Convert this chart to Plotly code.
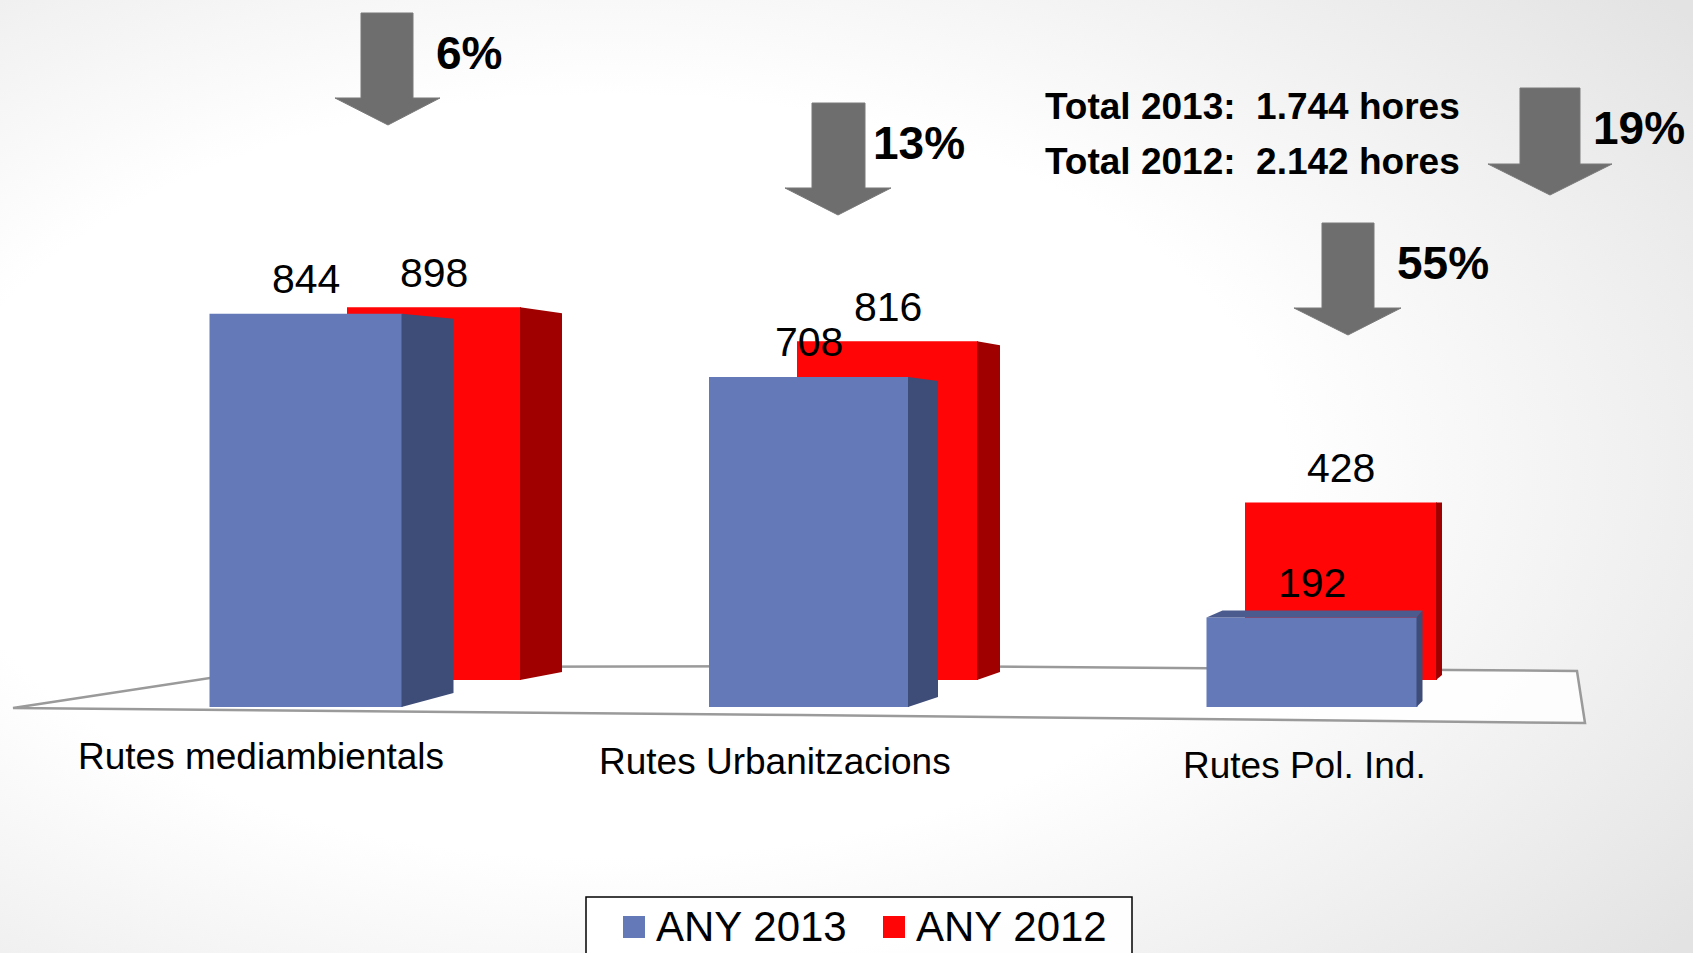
import base64
import plotly.graph_objects as go

# ---------------- data ----------------
categories = ["Rutes mediambientals", "Rutes Urbanitzacions", "Rutes Pol. Ind."]
series_names = ["ANY 2013", "ANY 2012"]
values_2013 = [844, 708, 192]
values_2012 = [898, 816, 428]
pct_labels = ["6%", "13%", "55%", "19%"]
total_lines = ["Total 2013:\u00a0 1.744 hores", "Total 2012:\u00a0 2.142 hores"]

# ---------------- style ----------------
W, H = 1693, 953
FONT = "Liberation Sans, Arial, sans-serif"
BLUE, BLUE_SIDE, BLUE_TOP = "#6479B8", "#3E4C78", "#4B5B8E"
RED, RED_SIDE = "#FF0505", "#A00000"
ARROW = "#6E6E6E"

# pseudo-perspective projections (pixel anchors) for front (2013) and back (2012) rows
front = dict(c0=306, k=503, y0=707, s=0.466)
back = dict(c0=434, k=453.5, y0=680, s=0.415)
blue_w_px = [193, 200, 211]
red_w_px = [174, 181, 192]
blue_depth, blue_dt, blue_db = [51, 29, 5], [5, 4, -7], [14, 10, 6]
red_depth, red_dt, red_db = [41, 22, 5], [6, 4, 0], [8, 8, 5]
blue_top_rise, blue_top_lshift = [0, 0, 7], [0, 0, 16]
SEAM = 1.0  # px overlap between front and side faces


def xr(p):
    return [-p["c0"] / p["k"], (W - p["c0"]) / p["k"]]


def yr(p):
    return [(p["y0"] - H) / p["s"], p["y0"] / p["s"]]


def px(x, y):
    return x / W, 1 - y / H


fig = go.Figure()

# ---- back row: ANY 2012 (axes x/y) ----
fig.add_trace(go.Bar(x=list(range(len(categories))), y=values_2012,
                     width=[w / back["k"] for w in red_w_px],
                     marker=dict(color=RED, line=dict(width=0)),
                     name=series_names[1], showlegend=False,
                     xaxis="x", yaxis="y"))
for i, v in enumerate(values_2012):
    xa = i + red_w_px[i] / back["k"] / 2 - SEAM / back["k"]
    xb = xa + (red_depth[i] + SEAM) / back["k"]
    fig.add_trace(go.Scatter(
        x=[xa, xa, xb, xb, xa],
        y=[0, v, v - red_dt[i] / back["s"], red_db[i] / back["s"], 0],
        fill="toself", fillcolor=RED_SIDE, mode="lines", line=dict(width=0),
        showlegend=False, hoverinfo="skip", xaxis="x", yaxis="y"))

# ---- front row: ANY 2013 (axes x2/y2, drawn on top) ----
fig.add_trace(go.Bar(x=list(range(len(categories))), y=values_2013,
                     width=[w / front["k"] for w in blue_w_px],
                     marker=dict(color=BLUE, line=dict(width=0)),
                     name=series_names[0], showlegend=False,
                     xaxis="x2", yaxis="y2"))
for i, v in enumerate(values_2013):
    half = blue_w_px[i] / front["k"] / 2
    xa = i + half - SEAM / front["k"]
    xb = xa + (blue_depth[i] + SEAM) / front["k"]
    fig.add_trace(go.Scatter(
        x=[xa, xa, xb, xb, xa],
        y=[0, v, v - blue_dt[i] / front["s"], blue_db[i] / front["s"], 0],
        fill="toself", fillcolor=BLUE_SIDE, mode="lines", line=dict(width=0),
        showlegend=False, hoverinfo="skip", xaxis="x2", yaxis="y2"))
    if blue_top_rise[i] > 0:
        xl = i - half
        yt = v + blue_top_rise[i] / front["s"]
        fig.add_trace(go.Scatter(
            x=[xl, xa, xb, xl + blue_top_lshift[i] / front["k"], xl],
            y=[v, v, yt, yt, v],
            fill="toself", fillcolor=BLUE_TOP, mode="lines", line=dict(width=0),
            showlegend=False, hoverinfo="skip", xaxis="x2", yaxis="y2"))

annotations = []
# value labels
for i, v in enumerate(values_2012):
    annotations.append(dict(x=i, y=v, xref="x", yref="y", text=str(v), showarrow=False,
                            yanchor="middle", yshift=34,
                            font=dict(family=FONT, size=41, color="black")))
for i, v in enumerate(values_2013):
    annotations.append(dict(x=i, y=v, xref="x2", yref="y2", text=str(v), showarrow=False,
                            yanchor="middle", yshift=35,
                            font=dict(family=FONT, size=41, color="black")))

# category labels
cat_xshift = [-45, -34, -8]
cat_y = [756, 761, 765]
for i, c in enumerate(categories):
    annotations.append(dict(x=i, y=1 - cat_y[i] / H, xref="x2", yref="paper", text=c,
                            showarrow=False, xshift=cat_xshift[i], yanchor="middle",
                            font=dict(family=FONT, size=37, color="black")))

# arrows + percentages
arrows = [  # shaft-left, shaft-right, top, head-base, head-left, head-right, tip-x, tip-y
    (361, 413, 13, 98, 335, 440, 388, 125),
    (812, 865, 103, 188, 785, 891, 838, 215),
    (1322, 1374, 223, 308, 1294, 1401, 1348, 335),
    (1520, 1580, 88, 164, 1488, 1612, 1550, 195),
]
pct_pos = [(469, 53), (919, 143), (1443, 263), (1639, 128)]
shapes = []
for a in arrows:
    sl, sr, top, base, hl, hr, tx, ty = a
    pts = [(sl, top), (sr, top), (sr, base), (hr, base), (tx, ty), (hl, base), (sl, base)]
    path = "M " + " L ".join("%.5f,%.5f" % px(x, y) for x, y in pts) + " Z"
    shapes.append(dict(type="path", path=path, xref="paper", yref="paper",
                       fillcolor=ARROW, line=dict(color="#7a7a7a", width=1)))
for t, (x, y) in zip(pct_labels, pct_pos):
    annotations.append(dict(x=x / W, y=1 - y / H, xref="paper", yref="paper", text="<b>%s</b>" % t,
                            showarrow=False, xanchor="center", yanchor="middle",
                            font=dict(family=FONT, size=46, color="black")))

# totals text
for t, y in zip(total_lines, [107, 162]):
    annotations.append(dict(x=1043 / W, y=1 - y / H, xref="paper", yref="paper", text="<b>%s</b>" % t,
                            showarrow=False, xanchor="left", yanchor="middle",
                            font=dict(family=FONT, size=37, color="black")))

# floor
floor = [(13, 708), (800, 715), (1585, 723), (1577, 671), (900, 666), (282, 667)]
path = "M " + " L ".join("%.5f,%.5f" % px(x, y) for x, y in floor) + " Z"
shapes.append(dict(type="path", path=path, xref="paper", yref="paper", layer="below",
                   fillcolor="rgba(255,255,255,0.85)", line=dict(color="#9A9A9A", width=2.5)))

# custom legend
shapes.append(dict(type="rect", xref="paper", yref="paper",
                   x0=586 / W, x1=1132 / W, y0=1 - 965 / H, y1=1 - 897 / H,
                   fillcolor="rgba(255,255,255,0.9)", line=dict(color="black", width=1.5)))
leg_sq_x = [623, 883]
leg_colors = [BLUE, RED]
for nm, sx, col in zip(series_names, leg_sq_x, leg_colors):
    shapes.append(dict(type="rect", xref="paper", yref="paper",
                       x0=sx / W, x1=(sx + 22) / W, y0=1 - 938 / H, y1=1 - 916 / H,
                       fillcolor=col, line=dict(width=0)))
    annotations.append(dict(x=(sx + 31) / W, y=1 - 926 / H, xref="paper", yref="paper", text=nm,
                            showarrow=False, xanchor="left", yanchor="middle",
                            font=dict(family=FONT, size=42, color="black")))

# background radial gradient
svg = ('<svg xmlns="http://www.w3.org/2000/svg" width="%d" height="%d">'
       '<defs><radialGradient id="g" cx="0.36" cy="0.5" r="0.8">'
       '<stop offset="0" stop-color="#ffffff"/><stop offset="0.5" stop-color="#ffffff"/>'
       '<stop offset="1" stop-color="#e3e3e3"/></radialGradient></defs>'
       '<rect width="100%%" height="100%%" fill="url(#g)"/></svg>') % (W, H)
bg = "data:image/svg+xml;base64," + base64.b64encode(svg.encode()).decode()

axis_off = dict(visible=False, showgrid=False, zeroline=False, fixedrange=True)
fig.update_layout(
    width=W, height=H,
    margin=dict(l=0, r=0, t=0, b=0),
    paper_bgcolor="white", plot_bgcolor="rgba(0,0,0,0)",
    xaxis=dict(range=xr(back), domain=[0, 1], **axis_off),
    yaxis=dict(range=yr(back), domain=[0, 1], **axis_off),
    xaxis2=dict(range=xr(front), overlaying="x", anchor="y2", **axis_off),
    yaxis2=dict(range=yr(front), overlaying="y", anchor="x2", **axis_off),
    barmode="overlay",
    showlegend=False,
    hovermode=False,
    shapes=shapes,
    annotations=annotations,
    images=[dict(source=bg, xref="paper", yref="paper", x=0, y=1, sizex=1, sizey=1,
                 sizing="stretch", layer="below", xanchor="left", yanchor="top")],
)

fig.write_html("out.html", config={"displayModeBar": False, "staticPlot": True},
               post_script="document.body.style.margin='0px';document.body.style.overflow='hidden';")
